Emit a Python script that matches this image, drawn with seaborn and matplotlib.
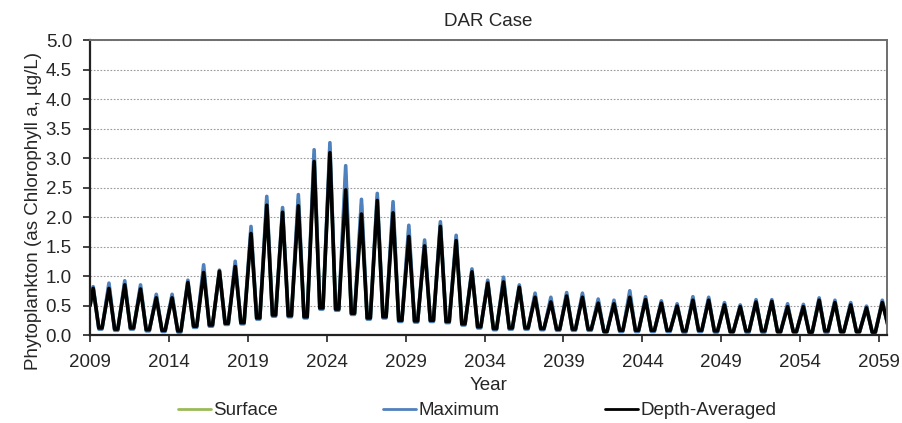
"""
Phytoplankton seasonal cycle plot for the DAR case.
Annual peak / low values read per series, plotted as a seasonal line.
"""
import matplotlib
matplotlib.use("Agg")
import matplotlib.pyplot as plt
from matplotlib.lines import Line2D
import seaborn as sns
import pandas as pd

years = list(range(2009, 2060))
start_values = {"Surface": 0.50, "Maximum": 0.50, "Depth-Averaged": 0.50}

# annual bloom peaks (ug/L)
depth_avg_peaks = [0.79, 0.79, 0.85, 0.78, 0.63, 0.63, 0.89, 1.06, 1.08, 1.16,
                   1.72, 2.20, 2.08, 2.19, 2.94, 3.09, 2.46, 2.05, 2.28, 2.07,
                   1.67, 1.51, 1.84, 1.60, 1.07, 0.88, 0.90, 0.81, 0.64, 0.56,
                   0.66, 0.64, 0.54, 0.53, 0.64, 0.60, 0.54, 0.49, 0.59, 0.59,
                   0.51, 0.48, 0.56, 0.57, 0.48, 0.48, 0.59, 0.55, 0.51, 0.46, 0.55]
maximum_peaks = [0.82, 0.88, 0.92, 0.85, 0.69, 0.69, 0.93, 1.19, 1.10, 1.25,
                 1.84, 2.35, 2.16, 2.38, 3.14, 3.26, 2.87, 2.30, 2.40, 2.26,
                 1.86, 1.61, 1.92, 1.69, 1.12, 0.93, 0.98, 0.85, 0.71, 0.64,
                 0.72, 0.71, 0.61, 0.59, 0.75, 0.65, 0.58, 0.53, 0.65, 0.64,
                 0.55, 0.51, 0.60, 0.60, 0.53, 0.52, 0.63, 0.59, 0.55, 0.49, 0.59]
surface_peaks = [0.80, 0.84, 0.88, 0.81, 0.66, 0.66, 0.91, 1.12, 1.09, 1.20,
                 1.78, 2.28, 2.12, 2.30, 3.05, 3.18, 2.70, 2.20, 2.34, 2.17,
                 1.78, 1.56, 1.88, 1.65, 1.10, 0.90, 0.94, 0.83, 0.68, 0.60,
                 0.69, 0.68, 0.58, 0.56, 0.70, 0.62, 0.56, 0.51, 0.62, 0.61,
                 0.53, 0.50, 0.58, 0.58, 0.50, 0.50, 0.61, 0.57, 0.53, 0.47, 0.57]

# annual lows following each peak
depth_avg_lows = [0.12, 0.10, 0.12, 0.09, 0.08, 0.07, 0.15, 0.17, 0.20, 0.21,
                  0.29, 0.34, 0.33, 0.31, 0.46, 0.44, 0.37, 0.29, 0.31, 0.25,
                  0.24, 0.25, 0.23, 0.19, 0.14, 0.11, 0.12, 0.12, 0.11, 0.10,
                  0.10, 0.10, 0.06, 0.08, 0.08, 0.08, 0.08, 0.07, 0.08, 0.07,
                  0.06, 0.07, 0.07, 0.06, 0.06, 0.05, 0.07, 0.06, 0.06, 0.05, 0.17]
maximum_lows = [0.10, 0.08, 0.10, 0.07, 0.06, 0.05, 0.13, 0.15, 0.18, 0.19,
                0.27, 0.32, 0.31, 0.29, 0.44, 0.42, 0.35, 0.27, 0.29, 0.23,
                0.22, 0.23, 0.21, 0.17, 0.12, 0.09, 0.10, 0.10, 0.09, 0.08,
                0.08, 0.08, 0.05, 0.06, 0.06, 0.06, 0.06, 0.05, 0.06, 0.05,
                0.05, 0.05, 0.05, 0.05, 0.05, 0.04, 0.05, 0.05, 0.05, 0.04, 0.15]
surface_lows = [0.11, 0.09, 0.11, 0.08, 0.07, 0.06, 0.14, 0.16, 0.19, 0.20,
                0.28, 0.33, 0.32, 0.30, 0.45, 0.43, 0.36, 0.28, 0.30, 0.24,
                0.23, 0.24, 0.22, 0.18, 0.13, 0.10, 0.11, 0.11, 0.10, 0.09,
                0.09, 0.09, 0.06, 0.07, 0.07, 0.07, 0.07, 0.06, 0.07, 0.06,
                0.05, 0.06, 0.06, 0.05, 0.05, 0.05, 0.06, 0.05, 0.05, 0.05, 0.16]

series_names = ["Surface", "Maximum", "Depth-Averaged"]
colors = {"Surface": "#9BBB59", "Maximum": "#4F81BD", "Depth-Averaged": "#000000"}
x_ticks = list(range(2009, 2060, 5))
y_ticks = [i * 0.5 for i in range(11)]


def seasonal_frame(name, peaks, lows):
    t = [years[0]]
    v = [start_values[name]]
    for yr, pk, lo in zip(years, peaks, lows):
        t += [yr + 0.2, yr + 0.56, yr + 0.76]
        v += [pk, lo, lo]
    return pd.DataFrame({"Year": t, "Chl": v, "Series": name})


df = pd.concat([
    seasonal_frame("Surface", surface_peaks, surface_lows),
    seasonal_frame("Maximum", maximum_peaks, maximum_lows),
    seasonal_frame("Depth-Averaged", depth_avg_peaks, depth_avg_lows),
], ignore_index=True)

sns.set_theme(style="white")
plt.rcParams["font.family"] = ["Liberation Sans", "DejaVu Sans"]
FS = 13.5

fig = plt.figure(figsize=(9.02, 4.23), dpi=100)
ax = fig.add_axes([0.0998, 0.208, 0.8836, 0.6974])

for name in series_names:
    sub = df[df["Series"] == name]
    sns.lineplot(data=sub, x="Year", y="Chl", color=colors[name], lw=2.6,
                 estimator=None, sort=False, ax=ax, legend=False,
                 solid_joinstyle="round")

ax.set_xlim(2009, 2059.5)
ax.set_ylim(0, 5.0)
ax.set_xticks(x_ticks)
ax.set_xticklabels([str(t) for t in x_ticks], fontsize=FS)
ax.set_yticks(y_ticks)
ax.set_yticklabels([f"{t:.1f}" for t in y_ticks], fontsize=FS)
ax.yaxis.grid(True, color="#9a9a9a", linestyle=(0, (1.5, 1.5)), lw=0.8)
ax.set_axisbelow(True)

for side in ["left", "bottom"]:
    ax.spines[side].set_color("#222222")
    ax.spines[side].set_linewidth(1.6)
for side in ["top", "right"]:
    ax.spines[side].set_color("#6e6e6e")
    ax.spines[side].set_linewidth(1.4)
ax.tick_params(axis="y", direction="out", length=5, width=1.2,
               color="#222222", left=True, pad=8)
ax.tick_params(axis="x", direction="out", length=5, width=1.2,
               color="#222222", bottom=True, pad=9)

ax.set_title("DAR Case", fontsize=FS, pad=10)
ax.set_xlabel("Year", fontsize=FS)
ax.xaxis.set_label_coords(0.5, -0.142)
ax.set_ylabel("Phytoplankton (as Chlorophyll a, µg/L)", fontsize=FS)
ax.yaxis.set_label_coords(-0.060, 0.42)

handles = [Line2D([0], [0], color=colors[n], lw=2) for n in series_names]
fig.legend(handles, series_names, loc="center", bbox_to_anchor=(0.529, 0.029),
           ncol=3, frameon=False, fontsize=FS, handlelength=1.75,
           handletextpad=0.15, columnspacing=5.6)

plt.savefig("out.png", dpi=100)
plt.close()
